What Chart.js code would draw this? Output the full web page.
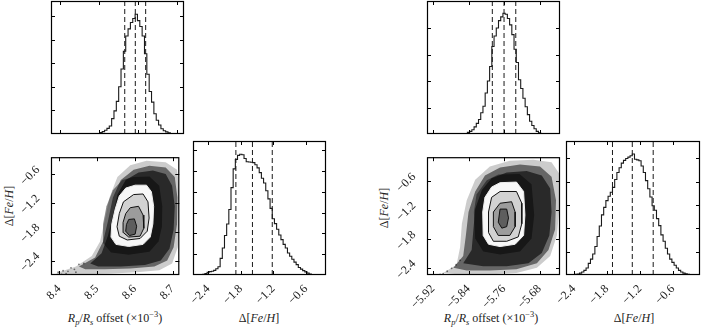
<!DOCTYPE html>
<html>
<head>
<meta charset="utf-8">
<script src="https://cdn.jsdelivr.net/npm/chart.js@4.4.1/dist/chart.umd.min.js"></script>
<style>
body{margin:0;width:701px;height:327px;overflow:hidden;background:#fff;position:relative;font-family:"Liberation Serif",serif;color:#222;}
canvas{position:absolute;}
.t{position:absolute;font-size:12px;white-space:nowrap;transform:translate(-50%,-50%);line-height:12px;}
.v{transform:translate(-50%,-50%) rotate(-90deg);}
sub,sup{font-size:70%;line-height:0;}
</style>
</head>
<body>
<div class="t" style="left:115px;top:318px"><i>R</i><sub><i>p</i></sub>/<i>R</i><sub><i>s</i></sub> offset (×10<sup>−3</sup>)</div>
<div class="t" style="left:259px;top:318px">Δ[<i>Fe</i>/<i>H</i>]</div>
<div class="t v" style="left:9px;top:206px">Δ[<i>Fe</i>/<i>H</i>]</div>
<div class="t" style="left:491px;top:318px"><i>R</i><sub><i>p</i></sub>/<i>R</i><sub><i>s</i></sub> offset (×10<sup>−3</sup>)</div>
<div class="t" style="left:634px;top:318px">Δ[<i>Fe</i>/<i>H</i>]</div>
<div class="t v" style="left:384px;top:208px">Δ[<i>Fe</i>/<i>H</i>]</div>
<script>
// ticks
const rpTicksL = [8.4, 8.5, 8.6, 8.7];
const rpLabelsL = ["8.4", "8.5", "8.6", "8.7"];
const rpTicksR = [-5.92, -5.84, -5.76, -5.68];
const rpLabelsR = ["−5.92", "−5.84", "−5.76", "−5.68"];
const feTicks = [-2.4, -1.8, -1.2, -0.6];
const feLabels = ["−2.4", "−1.8", "−1.2", "−0.6"];

// 1D histograms (bin centres, heights in tick units)
const rpBinsL = [8.500, 8.506, 8.512, 8.518, 8.524, 8.530, 8.536, 8.542, 8.548, 8.554, 8.560, 8.566, 8.572, 8.578, 8.584, 8.590, 8.596, 8.602, 8.608, 8.614, 8.620, 8.626, 8.632, 8.638, 8.644, 8.650, 8.656, 8.662, 8.668, 8.674, 8.680, 8.686, 8.692];
const rpCountsL = [0.02, 0.06, 0.1, 0.16, 0.24, 0.34, 0.65, 0.98, 1.38, 2.0, 2.75, 3.5, 4.15, 4.45, 4.72, 4.89, 5.07, 4.8, 4.55, 4.15, 3.4, 2.53, 1.8, 1.35, 0.86, 0.58, 0.38, 0.22, 0.14, 0.09, 0.05, 0.02, 0.01];
const rpQuantL = [8.5665, 8.5935, 8.620];

const rpBinsR = [-5.845, -5.840, -5.835, -5.830, -5.825, -5.820, -5.815, -5.810, -5.805, -5.800, -5.795, -5.790, -5.785, -5.780, -5.775, -5.770, -5.765, -5.760, -5.755, -5.750, -5.745, -5.740, -5.735, -5.730, -5.725, -5.720, -5.715, -5.710, -5.705, -5.700, -5.695, -5.690, -5.685, -5.680, -5.675];
const rpCountsR = [0.02, 0.06, 0.1, 0.16, 0.27, 0.4, 0.55, 0.8, 1.05, 1.55, 2.0, 2.55, 3.3, 3.7, 4.0, 4.28, 4.42, 4.56, 4.52, 4.36, 4.12, 3.75, 3.2, 2.7, 2.05, 1.72, 1.35, 1.03, 0.73, 0.48, 0.32, 0.2, 0.1, 0.05, 0.02];
const rpQuantR = [-5.7864, -5.76, -5.7336];

const feBinsL = [-2.52, -2.48, -2.44, -2.40, -2.36, -2.32, -2.28, -2.24, -2.20, -2.16, -2.12, -2.08, -2.04, -2.00, -1.96, -1.92, -1.88, -1.84, -1.80, -1.76, -1.72, -1.68, -1.64, -1.60, -1.56, -1.52, -1.48, -1.44, -1.40, -1.36, -1.32, -1.28, -1.24, -1.20, -1.16, -1.12, -1.08, -1.04, -1.00, -0.96, -0.92, -0.88, -0.84, -0.80, -0.76, -0.72, -0.68, -0.64, -0.60, -0.56, -0.52, -0.48, -0.44];
const feCountsL = [0, 0.03, 0.07, 0.13, 0.16, 0.18, 0.22, 0.3, 0.4, 0.8, 1.3, 1.9, 2.45, 3.15, 4.2, 5.1, 5.55, 5.75, 5.8, 5.78, 5.6, 5.44, 5.43, 5.42, 5.4, 5.3, 5.15, 4.92, 4.65, 4.42, 4.05, 3.66, 3.2, 2.7, 2.47, 2.2, 1.92, 1.7, 1.47, 1.3, 1.06, 0.9, 0.76, 0.62, 0.5, 0.36, 0.28, 0.21, 0.15, 0.09, 0.05, 0.02, 0];
const feQuantL = [-1.89, -1.585, -1.22];

const feBinsR = [-2.48, -2.44, -2.40, -2.36, -2.32, -2.28, -2.24, -2.20, -2.16, -2.12, -2.08, -2.04, -2.00, -1.96, -1.92, -1.88, -1.84, -1.80, -1.76, -1.72, -1.68, -1.64, -1.60, -1.56, -1.52, -1.48, -1.44, -1.40, -1.36, -1.32, -1.28, -1.24, -1.20, -1.16, -1.12, -1.08, -1.04, -1.00, -0.96, -0.92, -0.88, -0.84, -0.80, -0.76, -0.72, -0.68, -0.64, -0.60, -0.56, -0.52, -0.48, -0.44, -0.40, -0.36, -0.32, -0.28, -0.24];
const feCountsR = [0, 0.01, 0.02, 0.03, 0.04, 0.08, 0.13, 0.2, 0.3, 0.5, 0.68, 0.9, 1.22, 1.65, 2.1, 2.58, 2.9, 3.19, 3.38, 3.55, 3.76, 4.1, 4.4, 4.6, 4.8, 4.92, 5.0, 5.06, 5.12, 5.19, 4.97, 4.94, 4.9, 4.68, 4.4, 4.05, 3.7, 3.35, 2.97, 2.78, 2.42, 2.12, 1.72, 1.45, 1.15, 0.9, 0.68, 0.54, 0.42, 0.3, 0.2, 0.13, 0.08, 0.05, 0.03, 0.01, 0];
const feQuantR = [-1.70, -1.34, -0.96];

// 2D density: scatter cloud levels and contour outlines [x, y]
const haloL = [[8.393,-2.661],[8.444,-2.521],[8.486,-2.307],[8.508,-2.002],[8.520,-1.576],[8.533,-1.088],[8.554,-0.661],[8.588,-0.417],[8.631,-0.326],[8.682,-0.356],[8.712,-0.509],[8.719,-0.966],[8.719,-1.637],[8.714,-2.124],[8.699,-2.460],[8.665,-2.600],[8.605,-2.643],[8.529,-2.673],[8.461,-2.685],[8.393,-2.685]];
const midL = [[8.452,-2.521],[8.495,-2.338],[8.516,-2.002],[8.529,-1.576],[8.542,-1.088],[8.563,-0.722],[8.597,-0.509],[8.639,-0.429],[8.682,-0.466],[8.706,-0.661],[8.713,-1.088],[8.712,-1.637],[8.703,-2.124],[8.686,-2.399],[8.652,-2.521],[8.588,-2.563],[8.520,-2.582],[8.469,-2.582]];
const darkL = [[8.482,-2.460],[8.512,-2.246],[8.529,-1.880],[8.542,-1.454],[8.554,-1.027],[8.576,-0.722],[8.610,-0.570],[8.648,-0.527],[8.682,-0.600],[8.699,-0.844],[8.706,-1.271],[8.703,-1.759],[8.692,-2.155],[8.669,-2.399],[8.627,-2.490],[8.563,-2.521],[8.503,-2.521]];
const coreL = [[8.597,-0.661],[8.639,-0.649],[8.665,-0.844],[8.673,-1.271],[8.672,-1.698],[8.663,-2.002],[8.639,-2.216],[8.584,-2.277],[8.537,-2.234],[8.516,-2.033],[8.516,-1.637],[8.525,-1.271],[8.542,-0.935],[8.567,-0.722]];
const whiteL = [[8.601,-0.832],[8.631,-0.832],[8.644,-0.966],[8.650,-1.271],[8.648,-1.637],[8.641,-1.911],[8.622,-2.063],[8.584,-2.106],[8.550,-2.063],[8.537,-1.911],[8.539,-1.637],[8.548,-1.332],[8.559,-1.057],[8.576,-0.893]];
const cont1L = [[8.597,-1.027],[8.622,-1.015],[8.635,-1.179],[8.638,-1.515],[8.633,-1.789],[8.614,-1.941],[8.580,-1.972],[8.559,-1.893],[8.553,-1.698],[8.559,-1.423],[8.570,-1.179]];
const cont2L = [[8.588,-1.301],[8.610,-1.271],[8.622,-1.454],[8.624,-1.728],[8.614,-1.893],[8.584,-1.911],[8.570,-1.820],[8.569,-1.606],[8.576,-1.423]];
const cont3L = [[8.584,-1.545],[8.599,-1.533],[8.605,-1.685],[8.601,-1.850],[8.586,-1.880],[8.576,-1.789],[8.578,-1.649]];
const tailL = [[8.397,-2.643],[8.410,-2.612],[8.423,-2.624],[8.431,-2.551],[8.440,-2.582],[8.418,-2.673],[8.406,-2.685],[8.452,-2.478],[8.465,-2.460],[8.444,-2.643]];

const haloR = [[-5.897,-2.503],[-5.867,-2.333],[-5.859,-1.970],[-5.855,-1.485],[-5.844,-1.000],[-5.825,-0.576],[-5.792,-0.303],[-5.747,-0.182],[-5.694,-0.164],[-5.653,-0.212],[-5.635,-0.454],[-5.635,-1.121],[-5.641,-1.727],[-5.656,-2.151],[-5.686,-2.394],[-5.732,-2.503],[-5.799,-2.533],[-5.859,-2.533]];
const midR = [[-5.874,-2.394],[-5.852,-2.151],[-5.846,-1.727],[-5.840,-1.242],[-5.825,-0.818],[-5.803,-0.485],[-5.769,-0.321],[-5.724,-0.261],[-5.679,-0.303],[-5.653,-0.515],[-5.643,-1.000],[-5.645,-1.606],[-5.660,-2.030],[-5.686,-2.303],[-5.732,-2.424],[-5.792,-2.454],[-5.844,-2.454]];
const darkR = [[-5.852,-2.303],[-5.833,-2.030],[-5.829,-1.606],[-5.825,-1.182],[-5.810,-0.788],[-5.788,-0.545],[-5.754,-0.424],[-5.709,-0.394],[-5.675,-0.485],[-5.656,-0.757],[-5.653,-1.242],[-5.658,-1.727],[-5.675,-2.091],[-5.705,-2.303],[-5.754,-2.364],[-5.807,-2.364]];
const coreR = [[-5.773,-0.467],[-5.725,-0.454],[-5.698,-0.667],[-5.692,-1.303],[-5.698,-1.788],[-5.724,-2.061],[-5.769,-2.121],[-5.807,-2.061],[-5.825,-1.788],[-5.828,-1.242],[-5.822,-0.879],[-5.799,-0.588]];
const whiteR = [[-5.769,-0.636],[-5.732,-0.624],[-5.716,-0.818],[-5.713,-1.303],[-5.716,-1.727],[-5.735,-1.909],[-5.769,-1.957],[-5.795,-1.909],[-5.807,-1.727],[-5.808,-1.242],[-5.803,-0.939],[-5.788,-0.727]];
const cont1R = [[-5.769,-0.818],[-5.732,-0.818],[-5.720,-1.061],[-5.720,-1.485],[-5.728,-1.757],[-5.754,-1.848],[-5.784,-1.848],[-5.795,-1.667],[-5.795,-1.242],[-5.788,-0.939]];
const cont2R = [[-5.769,-1.061],[-5.743,-1.030],[-5.735,-1.242],[-5.735,-1.545],[-5.747,-1.727],[-5.773,-1.727],[-5.784,-1.545],[-5.784,-1.242]];
const cont3R = [[-5.769,-1.182],[-5.754,-1.182],[-5.750,-1.364],[-5.754,-1.545],[-5.765,-1.576],[-5.773,-1.454]];
const tailR = [[-5.897,-2.515],[-5.888,-2.467],[-5.878,-2.406],[-5.868,-2.333],[-5.904,-2.533],[-5.859,-2.242]];

Chart.defaults.font.family = '"Liberation Serif", serif';
Chart.defaults.font.size = 12;
Chart.defaults.color = "#222";

const PAD = {left: 50, top: 4, right: 6, bottom: 52};
const AXW = 46, AXH = 48; // space given to tick labels

// box + inward ticks on all four sides
const frame = {
  id: "frame",
  afterDatasetsDraw(chart, args, o) {
    const {ctx, chartArea: a} = chart;
    const x = chart.scales.x, y = chart.scales.y;
    ctx.save();
    ctx.strokeStyle = "#000";
    ctx.lineWidth = 1;
    ctx.beginPath();
    (o.xt || []).forEach(v => {
      const px = Math.round(x.getPixelForValue(v)) + 0.5;
      ctx.moveTo(px, a.bottom); ctx.lineTo(px, a.bottom - 4);
      ctx.moveTo(px, a.top); ctx.lineTo(px, a.top + 4);
    });
    (o.yt || []).forEach(v => {
      const py = Math.round(y.getPixelForValue(v)) + 0.5;
      ctx.moveTo(a.left, py); ctx.lineTo(a.left + 4, py);
      ctx.moveTo(a.right, py); ctx.lineTo(a.right - 4, py);
    });
    ctx.stroke();
    ctx.lineWidth = 1.2;
    ctx.strokeRect(a.left + 0.5, a.top + 0.5, a.right - a.left - 1, a.bottom - a.top - 1);
    ctx.restore();
  }
};

function zip(xs, ys) { return xs.map((v, i) => ({x: v, y: ys[i]})); }
function poly(pairs) {
  const pts = pairs.map(p => ({x: p[0], y: p[1]}));
  pts.push({x: pairs[0][0], y: pairs[0][1]});
  return pts;
}

function axis(s, vertical) {
  return {
    type: "linear", min: s.min, max: s.max, position: vertical ? "left" : "bottom",
    afterFit(sc) { if (vertical) sc.width = AXW; else sc.height = AXH; },
    afterBuildTicks(sc) { sc.ticks = s.ticks.map(v => ({value: v})); },
    grid: {display: false, drawTicks: false},
    border: {display: false},
    ticks: {
      display: !!s.labels, autoSkip: false, minRotation: 45, maxRotation: 45,
      padding: vertical ? 13 : 7, labelOffset: vertical ? -6 : 0,
      callback: (v, i) => s.labels ? s.labels[i] : ""
    }
  };
}

function panel(rect, datasets, xs, ys) {
  const c = document.createElement("canvas");
  const w = rect[2] + PAD.left + PAD.right, h = rect[3] + PAD.top + PAD.bottom;
  c.width = w; c.height = h;
  c.style.width = w + "px"; c.style.height = h + "px";
  c.style.left = (rect[0] - PAD.left) + "px";
  c.style.top = (rect[1] - PAD.top) + "px";
  document.body.appendChild(c);
  return new Chart(c, {
    type: "line",
    data: {datasets},
    options: {
      responsive: false, animation: false, events: [],
      layout: {padding: {left: PAD.left - AXW, top: PAD.top, right: PAD.right, bottom: PAD.bottom - AXH}},
      elements: {point: {radius: 0}, line: {tension: 0}},
      plugins: {legend: {display: false}, tooltip: {enabled: false}, frame: {xt: xs.ticks, yt: ys.ticks}},
      scales: {x: axis(xs, false), y: axis(ys, true)}
    },
    plugins: [frame]
  });
}

function histSets(bins, counts, quant, ymax) {
  const sets = [{data: zip(bins, counts), stepped: "middle", borderColor: "#1a1a1a", borderWidth: 1.1}];
  quant.forEach(q => sets.push({data: [{x: q, y: 0}, {x: q, y: ymax}], borderColor: "#1a1a1a", borderWidth: 1, borderDash: [5, 3]}));
  return sets;
}

function densitySets(halo, mid, dark, core, white, c1, c2, c3, tail) {
  const none = "rgba(0,0,0,0)";
  return [
    {data: poly(c3), fill: "shape", backgroundColor: "#5e5e5e", borderColor: "#111", borderWidth: 1},
    {data: poly(c2), fill: "shape", backgroundColor: "#9c9c9c", borderColor: "#111", borderWidth: 1},
    {data: poly(c1), fill: "shape", backgroundColor: "#d2d2d2", borderColor: "#111", borderWidth: 1},
    {data: poly(white), fill: "shape", backgroundColor: "#f8f8f8", borderColor: "#eee", borderWidth: 1},
    {data: poly(core), fill: "shape", backgroundColor: "rgba(0,0,0,0.45)", borderColor: none},
    {data: poly(dark), fill: "shape", backgroundColor: "rgba(0,0,0,0.6)", borderColor: none},
    {data: poly(mid), fill: "shape", backgroundColor: "rgba(0,0,0,0.5)", borderColor: none},
    {data: poly(halo), fill: "shape", backgroundColor: "rgba(0,0,0,0.2)", borderColor: none},
    {type: "scatter", data: tail.map(p => ({x: p[0], y: p[1]})), pointRadius: 0.9, backgroundColor: "rgba(0,0,0,0.5)", borderWidth: 0}
  ];
}

// left corner
panel([51, 1, 133, 133], histSets(rpBinsL, rpCountsL, rpQuantL, 5.63),
  {min: 8.378, max: 8.718, ticks: rpTicksL}, {min: 0, max: 5.63, ticks: [1, 2, 3, 4, 5]});
panel([51, 141, 133, 134], densitySets(haloL, midL, darkL, coreL, whiteL, cont1L, cont2L, cont3L, tailL),
  {min: 8.378, max: 8.718, ticks: rpTicksL, labels: rpLabelsL}, {min: -2.70, max: -0.25, ticks: feTicks, labels: feLabels});
panel([193, 141, 133, 134], histSets(feBinsL, feCountsL, feQuantL, 6.44),
  {min: -2.68, max: -0.23, ticks: feTicks, labels: feLabels}, {min: 0, max: 6.44, ticks: [1, 2, 3, 4, 5, 6]});

// right corner
panel([427, 1, 133, 133], histSets(rpBinsR, rpCountsR, rpQuantR, 5.02),
  {min: -5.9335, max: -5.634, ticks: rpTicksR}, {min: 0, max: 5.02, ticks: [1, 2, 3, 4]});
panel([427, 141, 133, 134], densitySets(haloR, midR, darkR, coreR, whiteR, cont1R, cont2R, cont3R, tailR),
  {min: -5.9335, max: -5.634, ticks: rpTicksR, labels: rpLabelsR}, {min: -2.545, max: -0.109, ticks: feTicks, labels: feLabels});
panel([566, 141, 134, 134], histSets(feBinsR, feCountsR, feQuantR, 5.75),
  {min: -2.545, max: -0.109, ticks: feTicks, labels: feLabels}, {min: 0, max: 5.75, ticks: [1, 2, 3, 4, 5]});
</script>
</body>
</html>
